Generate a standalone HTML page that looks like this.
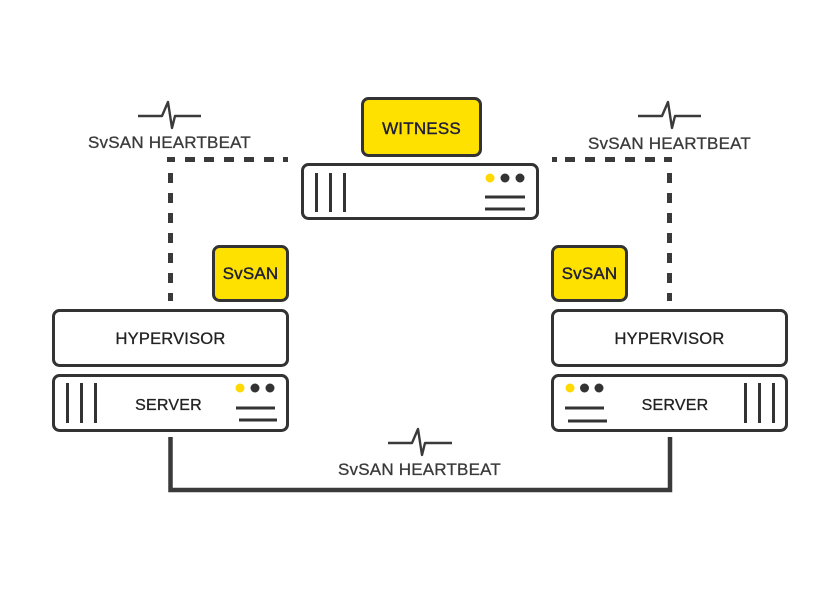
<!DOCTYPE html>
<html><head><meta charset="utf-8"><style>
html,body{margin:0;padding:0;background:#fff;}
svg{display:block;}
text{font-family:"Liberation Sans",sans-serif;}
</style></head><body>
<svg width="838" height="590" viewBox="0 0 838 590" xmlns="http://www.w3.org/2000/svg">
<rect width="838" height="590" fill="#fff"/>
<!-- Dashed lines left -->
<g fill="#3a3a3a">
<rect x="167" y="157" width="8" height="5"/>
<rect x="185" y="157" width="10" height="5"/>
<rect x="204" y="157" width="10" height="5"/>
<rect x="224" y="157" width="10" height="5"/>
<rect x="244" y="157" width="10" height="5"/>
<rect x="264" y="157" width="10" height="5"/>
<rect x="283" y="157" width="5" height="5"/>
<rect x="168" y="157" width="5" height="5"/>
<rect x="168" y="173" width="5" height="10"/>
<rect x="168" y="193" width="5" height="10"/>
<rect x="168" y="213" width="5" height="10"/>
<rect x="168" y="233" width="5" height="10"/>
<rect x="168" y="253" width="5" height="10"/>
<rect x="168" y="273" width="5" height="10"/>
<rect x="168" y="293" width="5" height="8"/>
<!-- right -->
<rect x="664" y="157" width="8" height="5"/>
<rect x="645" y="157" width="10" height="5"/>
<rect x="625" y="157" width="10" height="5"/>
<rect x="605" y="157" width="10" height="5"/>
<rect x="585" y="157" width="10" height="5"/>
<rect x="565" y="157" width="10" height="5"/>
<rect x="552" y="157" width="5" height="5"/>
<rect x="667" y="173" width="5" height="10"/>
<rect x="667" y="193" width="5" height="10"/>
<rect x="667" y="213" width="5" height="10"/>
<rect x="667" y="233" width="5" height="10"/>
<rect x="667" y="253" width="5" height="10"/>
<rect x="667" y="273" width="5" height="10"/>
<rect x="667" y="293" width="5" height="8"/>
</g>
<!-- Solid bottom connector -->
<path d="M170.5 437 V490 H670 V437" fill="none" stroke="#3a3a3a" stroke-width="4.5"/>

<!-- Heartbeat icons -->
<g fill="none" stroke="#3a3a3a" stroke-width="2.4" stroke-linejoin="round">
<path d="M138 116 H162 L168 102 L172 128 L175 116 H201"/>
<path d="M638 116 H662 L668 102 L672 128 L675 116 H701"/>
<path d="M388 443 H412 L418 429 L422 455 L425 443 H452"/>
</g>
<g font-size="17" fill="#3a3a3a" stroke="#3a3a3a" stroke-width="0.3" letter-spacing="0.2">
<text x="169.5" y="148" text-anchor="middle">SvSAN HEARTBEAT</text>
<text x="669.5" y="149" text-anchor="middle">SvSAN HEARTBEAT</text>
<text x="419.5" y="475" text-anchor="middle">SvSAN HEARTBEAT</text>
</g>

<!-- Witness -->
<rect x="362.5" y="98.5" width="118" height="57" rx="6" fill="#ffe100" stroke="#333" stroke-width="3"/>
<text x="421.5" y="134" text-anchor="middle" font-size="17" fill="#1e1e38" stroke="#1e1e38" stroke-width="0.4" letter-spacing="0.2">WITNESS</text>
<rect x="302.5" y="164.5" width="235" height="54" rx="6" fill="#fff" stroke="#333" stroke-width="3"/>
<g stroke="#333" stroke-width="3">
<line x1="316.5" y1="173" x2="316.5" y2="212"/>
<line x1="330.5" y1="173" x2="330.5" y2="212"/>
<line x1="344.5" y1="173" x2="344.5" y2="212"/>
<line x1="485" y1="197" x2="525" y2="197"/>
<line x1="485" y1="209" x2="525" y2="209"/>
</g>
<circle cx="490" cy="178" r="4.5" fill="#ffd900"/>
<circle cx="505" cy="178" r="4.5" fill="#333"/>
<circle cx="520" cy="178" r="4.5" fill="#333"/>

<!-- Left node -->
<rect x="213.5" y="246.5" width="74" height="54" rx="6" fill="#ffe100" stroke="#333" stroke-width="3"/>
<text x="250.5" y="279" text-anchor="middle" font-size="17" fill="#1e1e38" stroke="#1e1e38" stroke-width="0.4" letter-spacing="0.2">SvSAN</text>
<rect x="53.5" y="310.5" width="234" height="55" rx="6" fill="#fff" stroke="#333" stroke-width="3"/>
<text x="170.5" y="344" text-anchor="middle" font-size="16.5" fill="#222" stroke="#222" stroke-width="0.3" letter-spacing="0.2">HYPERVISOR</text>
<rect x="53.5" y="375.5" width="234" height="55" rx="6" fill="#fff" stroke="#333" stroke-width="3"/>
<text x="168.5" y="410" text-anchor="middle" font-size="16" fill="#222" stroke="#222" stroke-width="0.3" letter-spacing="0.2">SERVER</text>
<g stroke="#333" stroke-width="3">
<line x1="67.5" y1="383" x2="67.5" y2="423"/>
<line x1="81.5" y1="383" x2="81.5" y2="423"/>
<line x1="95.5" y1="383" x2="95.5" y2="423"/>
<line x1="236" y1="408" x2="275" y2="408"/>
<line x1="239" y1="420" x2="277" y2="420"/>
</g>
<circle cx="240" cy="388" r="4.5" fill="#ffd900"/>
<circle cx="255" cy="388" r="4.5" fill="#333"/>
<circle cx="270" cy="388" r="4.5" fill="#333"/>

<!-- Right node -->
<rect x="552.5" y="246.5" width="74" height="54" rx="6" fill="#ffe100" stroke="#333" stroke-width="3"/>
<text x="589.5" y="279" text-anchor="middle" font-size="17" fill="#1e1e38" stroke="#1e1e38" stroke-width="0.4" letter-spacing="0.2">SvSAN</text>
<rect x="552.5" y="310.5" width="234" height="55" rx="6" fill="#fff" stroke="#333" stroke-width="3"/>
<text x="669.5" y="344" text-anchor="middle" font-size="16.5" fill="#222" stroke="#222" stroke-width="0.3" letter-spacing="0.2">HYPERVISOR</text>
<rect x="552.5" y="375.5" width="234" height="55" rx="6" fill="#fff" stroke="#333" stroke-width="3"/>
<text x="675" y="410" text-anchor="middle" font-size="16" fill="#222" stroke="#222" stroke-width="0.3" letter-spacing="0.2">SERVER</text>
<g stroke="#333" stroke-width="3">
<line x1="745.5" y1="383" x2="745.5" y2="423"/>
<line x1="759.5" y1="383" x2="759.5" y2="423"/>
<line x1="773.5" y1="383" x2="773.5" y2="423"/>
<line x1="565" y1="408" x2="604" y2="408"/>
<line x1="568" y1="421" x2="607" y2="421"/>
</g>
<circle cx="570" cy="388" r="4.5" fill="#ffd900"/>
<circle cx="584.5" cy="388" r="4.5" fill="#333"/>
<circle cx="599" cy="388" r="4.5" fill="#333"/>
</svg>
</body></html>
